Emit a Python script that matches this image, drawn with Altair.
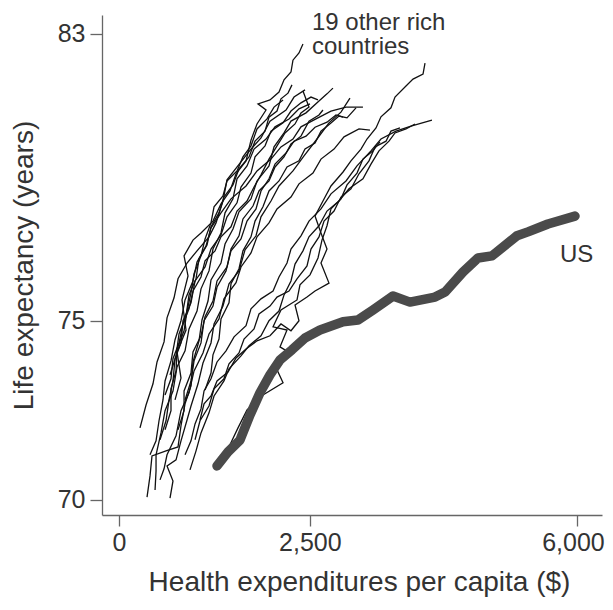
import altair as alt
import pandas as pd

FONT = "Liberation Sans"

# x tick values ($) and y tick values (years)
x_ticks = [0, 2500, 6000]
y_ticks = [70, 75, 83]

# United States: health expenditure per capita ($) vs life expectancy (years)
us_spend = [1284, 1428, 1585, 1716, 1847, 1978, 2110, 2266, 2437, 2633, 2935, 3131,
            3328, 3590, 3812, 4140, 4271, 4507, 4703, 4887, 5214, 5358, 5620, 5974]
us_life = [70.95, 71.34, 71.67, 72.37, 72.99, 73.49, 73.91, 74.19, 74.52, 74.74, 74.97, 75.02,
           75.30, 75.69, 75.52, 75.66, 75.80, 76.36, 76.75, 76.81, 77.37, 77.48, 77.70, 77.92]

# 19 other rich countries: (spend $, life expectancy) in time order
c01 = [(734, 72.79), (812, 73.40), (760, 74.13), (878, 74.74), (825, 75.58), (904, 76.25), (852, 76.81),
       (969, 77.25), (1074, 77.45), (1231, 77.78), (1336, 78.26), (1454, 78.62), (1533, 79.10), (1664, 79.46),
       (1729, 80.04), (1808, 80.49), (1926, 80.88), (1821, 81.05), (1978, 81.16), (2096, 81.38), (2162, 81.72),
       (2253, 81.94), (2279, 82.27), (2358, 82.47), (2410, 82.72)]
c02 = [(275, 72.01), (354, 72.65), (445, 73.24), (498, 73.85), (590, 74.41), (629, 75.08), (721, 75.64),
       (773, 76.17), (891, 76.61), (1022, 76.95), (1179, 77.34), (1271, 77.73), (1362, 78.34), (1415, 78.93),
       (1585, 79.40), (1729, 79.79), (1860, 80.10), (1978, 80.57), (2188, 80.88), (2293, 81.24), (2437, 81.44)]
c03 = [(367, 70.08), (406, 70.67), (432, 71.23), (616, 71.37), (773, 71.48), (812, 72.07), (865, 72.68),
       (943, 73.18), (969, 73.85), (1048, 74.44), (1087, 75.02), (1166, 75.55), (1205, 76.14), (1336, 76.61),
       (1389, 77.14), (1493, 77.56), (1572, 78.04), (1729, 78.40), (1808, 78.90), (1965, 79.32), (2031, 79.85),
       (2162, 80.24), (2253, 80.57), (2450, 80.80), (2620, 81.13), (2725, 81.33), (2803, 81.49)]
c04 = [(668, 70.05), (707, 70.53), (629, 70.95), (747, 71.12), (812, 71.65), (891, 72.23), (943, 72.62),
       (1035, 73.24), (1100, 73.82), (1205, 74.38), (1245, 74.91), (1362, 75.41), (1441, 76.03), (1572, 76.39),
       (1651, 76.98), (1795, 77.37), (1860, 77.90), (1991, 78.34), (2096, 78.76), (2279, 79.18), (2424, 79.60),
       (2594, 80.07), (2751, 80.52), (2908, 80.82), (3026, 81.21)]
c05 = [(406, 71.26), (485, 71.65), (524, 72.21), (576, 72.79), (603, 73.32), (681, 73.88), (734, 74.47),
       (812, 75.00), (865, 75.58), (969, 76.11), (1022, 76.64), (1140, 77.09), (1205, 77.59), (1336, 78.01),
       (1467, 78.40), (1664, 78.76), (1808, 79.18), (1991, 79.51), (2122, 79.85), (2279, 80.07), (2384, 80.41),
       (2581, 80.63), (2777, 80.85), (2974, 80.96), (3196, 80.96)]
c06 = [(537, 70.56), (590, 70.87), (629, 71.26), (747, 71.79), (812, 72.49), (917, 72.99), (983, 73.60),
       (1100, 74.10), (1179, 74.63), (1310, 75.05), (1375, 75.61), (1533, 76.06), (1598, 76.50), (1729, 76.89),
       (1808, 77.34), (1965, 77.73), (2070, 78.12), (2253, 78.45), (2358, 78.82), (2541, 79.12), (2646, 79.51),
       (2817, 79.79), (2948, 80.13), (3144, 80.35), (3288, 80.32)]
c07 = [(1061, 72.23), (1114, 72.68), (1205, 72.90), (1284, 73.32), (1428, 73.57), (1533, 73.96), (1664, 74.21),
       (1808, 74.44), (1978, 74.58), (2122, 74.91), (2253, 74.72), (2358, 75.00), (2306, 75.44), (2463, 75.66),
       (2568, 75.83), (2751, 76.05), (2646, 76.61), (2725, 77.00), (2646, 77.45), (2568, 77.92), (2672, 78.34),
       (2777, 78.76), (2935, 79.15), (3039, 79.46), (3170, 79.79), (3249, 80.07), (3367, 80.38), (3432, 80.69),
       (3563, 80.94), (3616, 81.24), (3760, 81.55), (3852, 81.74), (3983, 81.88), (4009, 82.19)]
c08 = [(865, 71.26), (943, 71.65), (996, 72.12), (1074, 72.54), (1114, 73.04), (1205, 73.38), (1284, 73.85),
       (1402, 74.16), (1507, 74.55), (1664, 74.86), (1729, 75.33), (1860, 75.61), (2018, 75.83), (2096, 76.22),
       (2201, 76.61), (2253, 77.00), (2384, 77.37), (2489, 77.78), (2646, 78.12), (2777, 78.54), (2974, 78.90),
       (3118, 79.32), (3301, 79.74), (3432, 80.07), (3629, 80.29), (3825, 80.43), (4100, 80.60)]
c09 = [(603, 71.96), (681, 72.49), (681, 73.10), (747, 73.60), (760, 74.21), (852, 74.72), (891, 75.27),
       (943, 75.78), (983, 76.31), (1074, 76.81), (1127, 77.28), (1205, 77.73), (1245, 78.18), (1362, 78.48),
       (1415, 78.90), (1546, 79.18), (1624, 79.57), (1729, 79.88), (1808, 80.35), (1939, 80.63), (2031, 80.96),
       (2149, 81.16)]
c10 = [(865, 72.79), (943, 73.32), (983, 73.88), (1074, 74.38), (1114, 75.00), (1231, 75.41), (1284, 75.94),
       (1402, 76.39), (1467, 76.95), (1598, 77.28), (1677, 77.78), (1795, 78.12), (1860, 78.62), (1965, 78.96),
       (2044, 79.37), (2188, 79.68), (2293, 80.01), (2450, 80.15), (2568, 80.40), (2725, 80.54), (2843, 80.74),
       (2935, 80.68)]
c11 = [(773, 71.96), (852, 72.49), (852, 73.04), (943, 73.54), (969, 74.13), (1074, 74.58), (1127, 75.11),
       (1231, 75.55), (1284, 76.11), (1415, 76.50), (1467, 77.00), (1572, 77.37), (1624, 77.84), (1755, 78.20),
       (1834, 78.62), (1965, 78.90), (2044, 79.29), (2162, 79.57), (2253, 79.93), (2384, 80.15), (2489, 80.57),
       (2620, 80.74), (2672, 80.88)]
c12 = [(537, 71.68), (616, 72.21), (655, 72.79), (707, 73.32), (734, 73.94), (812, 74.38), (838, 75.00),
       (943, 75.50), (996, 76.11), (1127, 76.50), (1205, 77.00), (1336, 77.39), (1415, 77.90), (1546, 78.29),
       (1598, 78.73), (1729, 79.12), (1782, 79.57), (1913, 79.88), (1991, 80.29), (2149, 80.52), (2253, 80.85),
       (2384, 81.08), (2515, 81.24), (2607, 81.16)]
c13 = [(996, 71.68), (1061, 72.21), (1179, 72.62), (1245, 73.10), (1375, 73.38), (1441, 73.80), (1572, 74.10),
       (1638, 74.49), (1769, 74.77), (1834, 75.19), (1978, 75.41), (2070, 75.66), (2227, 75.83), (2332, 76.17),
       (2463, 76.53), (2515, 77.00), (2620, 77.34), (2686, 77.78), (2817, 78.06), (2908, 78.45), (3039, 78.68),
       (3144, 79.10), (3275, 79.46), (3354, 79.85), (3498, 80.01), (3563, 80.29), (3681, 80.38)]
c14 = [(472, 70.28), (485, 70.81), (485, 71.26), (550, 71.87), (603, 72.49), (707, 73.04), (760, 73.71),
       (865, 74.16), (917, 74.77), (1022, 75.27), (1074, 75.89), (1179, 76.39), (1231, 77.00), (1336, 77.45),
       (1389, 78.01), (1493, 78.40), (1546, 78.96), (1677, 79.32), (1769, 79.79), (1926, 80.07), (2044, 80.41),
       (2227, 80.63), (2358, 80.91), (2502, 81.05)]
c15 = [(930, 70.84), (1009, 71.37), (1074, 71.87), (1179, 72.43), (1245, 72.90), (1375, 73.32), (1441, 73.66),
       (1598, 74.02), (1703, 74.30), (1860, 74.58), (1965, 75.00), (2096, 75.27), (2162, 75.72), (2253, 76.11),
       (2306, 76.58), (2410, 76.95), (2489, 77.34), (2620, 77.65), (2725, 78.06), (2882, 78.34), (3013, 78.68),
       (3196, 78.96), (3301, 79.37), (3406, 79.74), (3537, 80.01), (3616, 80.24), (3760, 80.35), (3878, 80.49)]
c16 = [(1127, 73.07), (1205, 73.54), (1231, 74.05), (1310, 74.49), (1336, 75.05), (1441, 75.50), (1467, 76.03),
       (1572, 76.45), (1624, 76.95), (1729, 77.34), (1782, 77.78), (1886, 78.18), (1965, 78.62), (2096, 78.90),
       (2201, 79.29), (2358, 79.46), (2437, 79.79), (2568, 79.96), (2646, 80.29), (2777, 80.52), (2882, 80.71),
       (2987, 80.66), (3105, 80.94)]
c17 = [(1349, 71.12), (1454, 71.54), (1559, 72.01), (1677, 72.51), (1886, 72.93), (2149, 73.27), (2070, 73.63),
       (2240, 74.10), (2109, 74.27), (2201, 74.74), (2018, 74.83), (2122, 75.30), (2332, 75.58), (2371, 76.00),
       (2502, 76.28), (2607, 76.75), (2659, 77.25), (2725, 77.65), (2777, 78.12), (2908, 78.40), (2987, 78.79),
       (3118, 79.12), (3196, 79.51), (3327, 79.74), (3419, 79.99)]
c18 = [(668, 73.49), (747, 74.02), (786, 74.63), (878, 75.13), (917, 75.72), (1009, 76.17), (1048, 76.73),
       (1153, 77.11), (1205, 77.62), (1310, 78.01), (1375, 78.45), (1493, 78.79), (1572, 79.24), (1703, 79.57),
       (1782, 80.01), (1913, 80.29), (1965, 80.68), (2070, 80.85), (2122, 81.19), (2214, 81.35), (2266, 81.58)]
c19 = [(603, 72.93), (681, 73.38), (707, 73.94), (786, 74.38), (838, 74.91), (917, 75.33), (969, 75.83),
       (1074, 76.22), (1127, 76.67), (1258, 76.95), (1336, 77.34), (1467, 77.62), (1546, 78.06), (1677, 78.34),
       (1769, 78.73), (1860, 79.07), (1965, 79.51), (2070, 79.88), (2175, 80.24), (2306, 80.49), (2384, 80.80),
       (2489, 80.96), (2410, 81.41)]

# Annotation labels
label_text = ["19 other rich", "countries", "US"]
label_spend = [2528, 2528, 5778]
label_life = [83.12, 82.43, 76.64]

others = [c01, c02, c03, c04, c05, c06, c07, c08, c09, c10,
          c11, c12, c13, c14, c15, c16, c17, c18, c19]
rows = []
for k, series in enumerate(others):
    for j, (s, l) in enumerate(series):
        rows.append({"country": f"C{k + 1}", "i": j, "spend": s, "life": l})
df_other = pd.DataFrame(rows)
df_us = pd.DataFrame({"i": list(range(len(us_spend))), "spend": us_spend, "life": us_life})
df_lab = pd.DataFrame({"label": label_text, "spend": label_spend, "life": label_life})

xscale = alt.Scale(domain=[-223, 6328], nice=False, zero=False)
yscale = alt.Scale(domain=[69.58, 83.53], nice=False, zero=False)

xaxis = alt.Axis(values=x_ticks, format=",.0f", title="Health expenditures per capita ($)",
                 grid=False, tickSize=11, labelPadding=4, titlePadding=13, labelFlush=False,
                 titleX=257,
                 labelOffset=alt.condition("datum.value == 6000", alt.value(-4), alt.value(0)))
yaxis = alt.Axis(values=y_ticks, format=".0f", title="Life expectancy (years)", grid=False,
                 tickSize=12, labelPadding=5, titlePadding=19)

lines = alt.Chart(df_other).mark_line(color="#111111", strokeWidth=1.3, clip=True).encode(
    x=alt.X("spend:Q", scale=xscale, axis=xaxis),
    y=alt.Y("life:Q", scale=yscale, axis=yaxis),
    detail="country:N",
    order="i:Q",
)

us = alt.Chart(df_us).mark_line(color="#4a4a4a", strokeWidth=9.5, strokeCap="round",
                                 strokeJoin="round").encode(
    x=alt.X("spend:Q", scale=xscale),
    y=alt.Y("life:Q", scale=yscale),
    order="i:Q",
)

labels = alt.Chart(df_lab).mark_text(align="left", baseline="alphabetic", fontSize=24,
                                      font=FONT, color="#333333").encode(
    x=alt.X("spend:Q", scale=xscale),
    y=alt.Y("life:Q", scale=yscale),
    text="label:N",
)

chart = alt.layer(lines, us, labels).properties(
    width=500, height=500,
    padding={"left": 94, "top": 7, "right": 3, "bottom": 86},
    autosize=alt.AutoSizeParams(type="none"),
    background="white",
).configure_view(stroke=None).configure_axis(
    labelFont=FONT, titleFont=FONT, labelFontSize=25, titleFontSize=28,
    titleFontWeight="normal", labelColor="#333333", titleColor="#333333",
    domainColor="#666666", tickColor="#666666", domainWidth=1.3, tickWidth=1.3,
)

chart.save("out.html", embed_options={"renderer": "svg", "actions": False})
